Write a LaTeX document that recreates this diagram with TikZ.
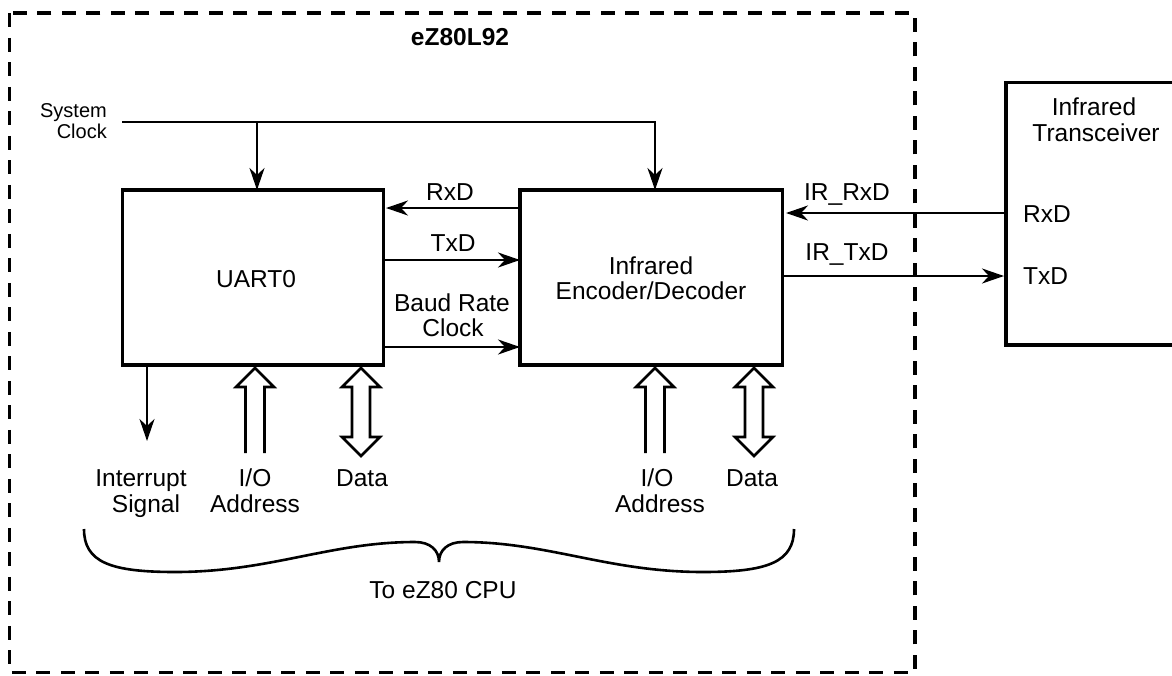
\documentclass[tikz,border=0pt]{standalone}
\usepackage{fontspec}
\setmainfont{Liberation Sans}
\usetikzlibrary{arrows.meta}
\tikzset{
  box/.style={draw, line width=3.6pt, inner sep=0pt, outer sep=0pt},
  outer/.style={draw, line width=3.8pt, dash pattern=on 14pt off 10.5pt},
  wire/.style={line width=2.6pt},
  arr/.style={line width=2.6pt, -{Stealth[length=22pt,width=15pt,inset=7pt]}},
  hollow/.style={line width=2.6pt, line join=miter},
  lbl/.style={font=\fontsize{24.5}{26}\selectfont, inner sep=0pt, anchor=base},
  lblw/.style={lbl, anchor=base west},
  small/.style={font=\fontsize{20}{21}\selectfont, inner sep=0pt, anchor=base east},
  ioarrow/.pic={\draw[hollow] (-9.5,85) -- (-9.5,19) -- (-19,19) -- (0,0) -- (19,19) -- (9.5,19) -- (9.5,85);},
  dataarrow/.pic={\draw[hollow] (0,0) -- (19,19) -- (9,19) -- (9,69) -- (19,69) -- (0,88) -- (-19,69) -- (-9,69) -- (-9,19) -- (-19,19) -- cycle;}
}
\begin{document}
\begin{tikzpicture}[x=1pt,y=-1pt]
\path[use as bounding box, clip] (0,0) rectangle (1172,675);
\fill[white] (0,0) rectangle (1172,675);

% outer dashed box
\draw[outer] (9.5,13.3) rectangle (914.7,672.5);
\node[font=\bfseries\fontsize{24.5}{26}\selectfont, inner sep=0pt, anchor=base] (title) at (460,45) {eZ80L92};

% blocks
\node[box, minimum width=261pt, minimum height=175pt] (uart) at (253,277.5) {};
\node[box, minimum width=262.5pt, minimum height=175pt] (enc) at (651.25,277.5) {};
\node[box, minimum width=300pt, minimum height=262.5pt] (trx) at (1156,213.75) {};

\node[lbl] (uartt) at (256,287.6) {UART0};
\node[lbl] (enct1) at (651,274.8) {Infrared};
\node[lbl] (enct2) at (651,299.8) {Encoder/Decoder};
\node[lbl] (trxt1) at (1094,115.8) {Infrared};
\node[lbl] (trxt2) at (1096,141.8) {Transceiver};
\node[lblw] (trxrx) at (1023,222.8) {RxD};
\node[lblw] (trxtx) at (1023,284.8) {TxD};

% system clock
\node[small] (sys1) at (107,117) {System};
\node[small] (sys2) at (107,138) {Clock};
\coordinate (clk) at (122,122);
\coordinate (dropA) at (257,122);
\coordinate (dropB) at (655,122);
\draw[arr] (clk) -| (enc.north -| dropB);
\draw[arr] (dropA) -- (uart.north -| dropA);

% UART <-> encoder
\coordinate (rxy) at (0,208);
\coordinate (txy) at (0,260);
\coordinate (bry) at (0,347);
\draw[arr, shorten >=2.5pt] (enc.west |- rxy) -- (uart.east |- rxy);
\draw[arr] (uart.east |- txy) -- (enc.west |- txy);
\draw[arr] (uart.east |- bry) -- (enc.west |- bry);
\node[lbl] (rxl) at (450,200.8) {RxD};
\node[lbl] (txl) at (453,251.8) {TxD};
\node[lbl] (brl1) at (452,311.8) {Baud Rate};
\node[lbl] (brl2) at (453,336.8) {Clock};

% encoder <-> transceiver
\coordinate (irry) at (0,213);
\coordinate (irty) at (0,276);
\draw[arr, shorten >=3.5pt] (trx.west |- irry) -- (enc.east |- irry);
\draw[arr, shorten >=2pt] (enc.east |- irty) -- (trx.west |- irty);
\node[lbl] (irrl) at (847,200.8) {IR\_RxD};
\node[lbl] (irtl) at (847,260.8) {IR\_TxD};

% interrupt
\coordinate (intx) at (147,0);
\coordinate (intend) at (147,441);
\draw[arr] (uart.south -| intx) -- (intend);
\node[lbl] (int1) at (141,486.8) {Interrupt};
\node[lbl] (int2) at (146,512.8) {Signal};

% bus arrows
\pic at (255,368) {ioarrow};
\pic at (361,368) {dataarrow};
\pic at (655,368) {ioarrow};
\pic at (754,368) {dataarrow};
\node[lbl] (io1a) at (255,486.8) {I/O};
\node[lbl] (io1b) at (255,512.8) {Address};
\node[lbl] (d1) at (362,486.8) {Data};
\node[lbl] (io2a) at (657,486.8) {I/O};
\node[lbl] (io2b) at (660,512.8) {Address};
\node[lbl] (d2) at (752,486.8) {Data};

% brace
\draw[wire] (84,529) .. controls (84,562) and (110,572) .. (175,572)
  .. controls (270,572) and (330,542) .. (415,542)
  .. controls (430,542) and (439,550) .. (439,562)
  .. controls (439,550) and (448,542) .. (463,542)
  .. controls (548,542) and (608,572) .. (703,572)
  .. controls (768,572) and (794,562) .. (794,529);
\node[lbl] (cpu) at (443,598.8) {To eZ80 CPU};
\end{tikzpicture}
\end{document}
